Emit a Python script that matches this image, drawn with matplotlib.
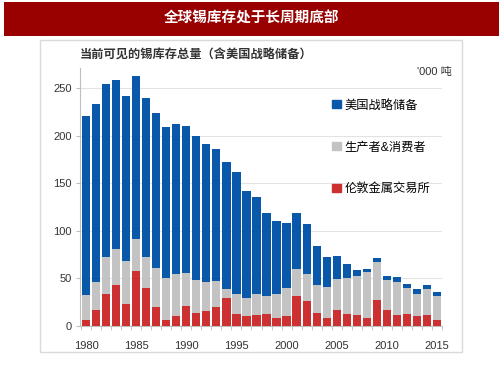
import matplotlib
matplotlib.use('Agg')
import matplotlib.pyplot as plt
from matplotlib.patches import Rectangle, Patch
import numpy as np

plt.rcParams['font.family'] = ['Liberation Sans', 'Noto Sans CJK SC']

# data ('000 tonnes)
years = list(range(1980, 2016))
lme = [6, 17, 34, 43, 23, 58, 40, 20, 6, 10, 21, 14, 16, 20, 29, 13, 11, 12,
       13, 8, 10, 31, 26, 14, 8, 17, 13, 12, 8, 27, 17, 12, 13, 10, 12, 6]
producers = [27, 29, 39, 38, 45, 33, 32, 41, 44, 45, 35, 34, 30, 27, 10, 21, 18, 22,
             18, 26, 30, 29, 29, 29, 33, 32, 37, 40, 49, 40, 31, 34, 27, 24, 27, 26]
us_reserve = [188, 187, 181, 177, 174, 172, 168, 163, 159, 157, 154, 152, 145, 139, 133, 128, 113, 101,
              88, 76, 68, 59, 52, 41, 32, 25, 15, 7, 3, 4, 5, 5, 4, 5, 4, 4]
series_names = ['美国战略储备', '生产者&消费者', '伦敦金属交易所']
colors = ['#0A58AA', '#C3C3C3', '#CC3030']

title = '全球锡库存处于长周期底部'
subtitle = '当前可见的锡库存总量（含美国战略储备）'
unit = "'000 吨"

W, H = 503, 378
fig = plt.figure(figsize=(W / 100, H / 100), dpi=100)

# red banner and panel box
fig.patches.append(Rectangle((4 / W, 1 - 36 / H), 495 / W, 34 / H,
                             transform=fig.transFigure, facecolor='#990000',
                             edgecolor='none', zorder=-1))
fig.patches.append(Rectangle((40 / W, 1 - 352 / H), 422 / W, 312 / H,
                             transform=fig.transFigure, facecolor='none',
                             edgecolor='#DADADA', lw=1, zorder=-1))
fig.text(251 / W, 1 - 19 / H, title, color='white', fontsize=10.5,
         fontweight='bold', ha='center', va='center')
fig.text(80 / W, 1 - 56 / H, subtitle, color='#333333', fontsize=8.8,
         fontweight='bold', ha='left', va='center')
fig.text(452 / W, 1 - 72 / H, unit, color='#333333', fontsize=8,
         ha='right', va='center')

ax = fig.add_axes([80 / W, 1 - 326 / H, 362 / W, 258 / H])
ax.set_zorder(2)
ax.set_facecolor('none')

x = np.array(years)
lme = np.array(lme)
producers = np.array(producers)
us_reserve = np.array(us_reserve)
w = 0.82
ax.bar(x, lme, width=w, color=colors[2], zorder=3)
ax.bar(x, producers, bottom=lme, width=w, color=colors[1], zorder=3)
ax.bar(x, us_reserve, bottom=lme + producers, width=w, color=colors[0], zorder=3)

ax.set_xlim(1979.4, 2015.5)
ax.set_ylim(0, 271)
ax.set_yticks(range(0, 251, 50))
ax.set_xticks(range(1980, 2016, 5))
ax.set_xticks(np.arange(1979.5, 2016, 1), minor=True)
ax.tick_params(axis='x', which='major', length=0, pad=11, labelsize=8, colors='#333333')
ax.tick_params(axis='x', which='minor', length=3, color='#BFBFBF')
ax.tick_params(axis='y', length=3, color='#BFBFBF', labelsize=8, labelcolor='#333333', pad=3)
ax.grid(axis='y', color='#E3E3E3', lw=0.8, zorder=0)
for s in ['top', 'right']:
    ax.spines[s].set_visible(False)
ax.spines['left'].set_color('#BFBFBF')
ax.spines['bottom'].set_color('#BFBFBF')

handles = [Patch(color=c) for c in colors]
ax.legend(handles, series_names, loc='upper left', bbox_to_anchor=(0.697, 0.878),
          frameon=False, fontsize=8.8, handlelength=0.7, handleheight=0.7,
          handletextpad=0.3, labelspacing=2.45, borderpad=0, borderaxespad=0)

fig.savefig('out.png', dpi=100)
